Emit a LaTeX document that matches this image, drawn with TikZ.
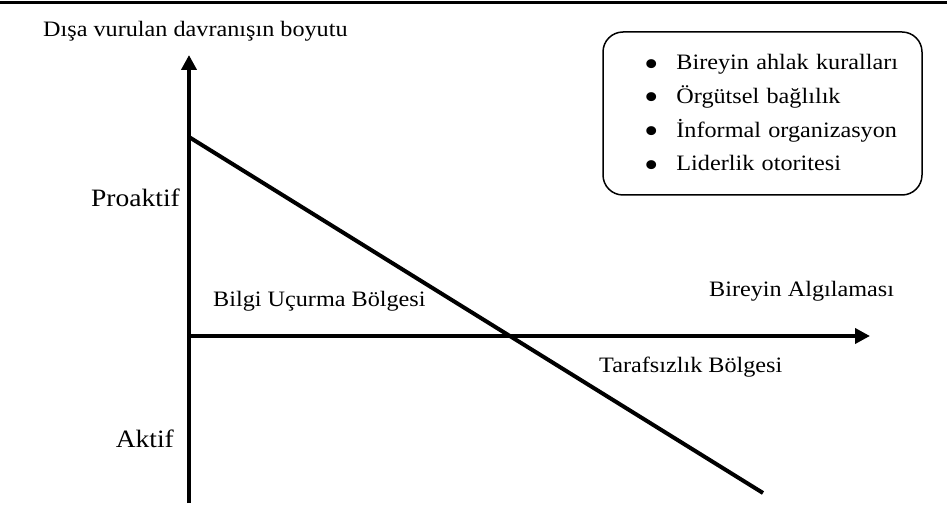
\documentclass[tikz,border=0pt]{standalone}
\usepackage{fontspec}
\setmainfont{Liberation Serif}[FakeStretch=1.1]
\usetikzlibrary{arrows.meta}
\newcommand{\bigdot}{\raisebox{-0.3em}{\scalebox{1.7}{\textbullet}}}

\begin{document}
\begin{tikzpicture}[x=1pt, y=-1pt,
  axis/.style={line width=4pt, -{Triangle[length=15pt,width=15pt]}},
  lbl/.style={inner sep=0pt, font=\fontsize{22}{26}\selectfont},
  biglbl/.style={inner sep=0pt, font=\fontsize{25}{30}\selectfont},
  factorbox/.style={draw, line width=1.5pt, rounded corners=20pt, inner sep=0pt,
    text width=319pt, minimum height=163pt, font=\fontsize{22}{33.7}\selectfont}]
  \useasboundingbox (0,0) rectangle (947,510);

  % top rule
  \coordinate (ruleL) at (0,3);
  \coordinate (ruleR) at (947,3);
  \draw[line width=3pt] (ruleL) -- (ruleR);

  % axes and the line
  \coordinate (O) at (189,336);
  \coordinate (yTop) at (189,55);
  \coordinate (yBot) at (189,503);
  \coordinate (xEnd) at (870,336);
  \coordinate (lineA) at (189,137);
  \coordinate (lineB) at (763,493);

  \draw[axis] (yBot) -- (yTop);
  \draw[axis] (O) -- (xEnd);
  \draw[line width=4pt] (lineA) -- (lineB);

  \node[lbl, anchor=base west] (yLabel) at (43,37) {Dışa vurulan davranışın boyutu};
  \node[biglbl, anchor=base east] (proactive) at (180,207) {Proaktif};
  \node[biglbl, anchor=base east] (active) at (174,447) {Aktif};
  \node[lbl, anchor=base west] (gapZone) at (213,307) {Bilgi Uçurma Bölgesi};
  \node[lbl, anchor=base west] (xLabel) at (709,297) {Bireyin Algılaması};
  \node[lbl, anchor=base west] (neutralZone) at (599,372) {Tarafsızlık Bölgesi};

  % factors
  \node[factorbox] (factors) at (762.5,113.5) {\noindent
    \begin{tabular}{@{\hspace{41pt}}l@{\hspace{18pt}}l@{}}
      \bigdot & Bireyin ahlak kuralları\\
      \bigdot & Örgütsel bağlılık\\
      \bigdot & İnformal organizasyon\\
      \bigdot & Liderlik otoritesi
    \end{tabular}};
\end{tikzpicture}
\end{document}
